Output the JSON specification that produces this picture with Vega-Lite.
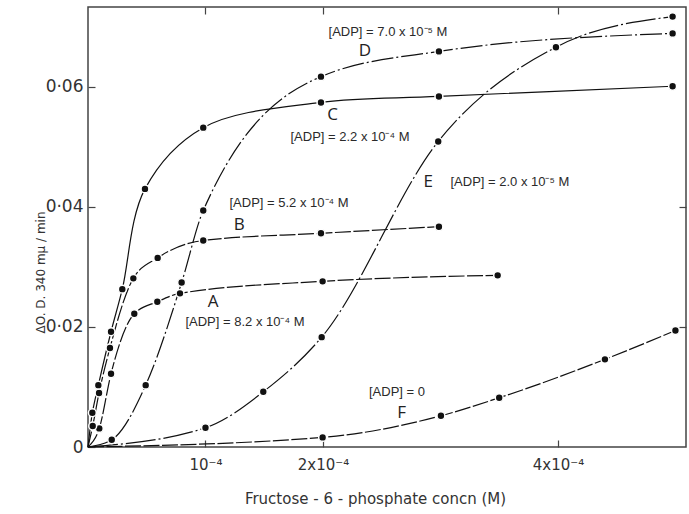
{
  "$schema": "https://vega.github.io/schema/vega-lite/v6.json",
  "width": 598,
  "height": 440,
  "autosize": {"type": "none"},
  "padding": {"left": 88, "top": 7, "right": 3, "bottom": 67},
  "background": "white",
  "config": {
    "view": {"stroke": "#444", "strokeWidth": 1.5},
    "axis": {"domain": false, "grid": false, "tickColor": "#444", "tickWidth": 1.2, "labelColor": "#333", "titleColor": "#333", "titleFontWeight": "normal"}
  },
  "datasets": {
    "curves": [
      {"curve": "A", "x": 0, "y": 0},
      {"curve": "A", "x": 9.6e-6, "y": 0.0031},
      {"curve": "A", "x": 1.96e-5, "y": 0.0122},
      {"curve": "A", "x": 3.94e-5, "y": 0.0222},
      {"curve": "A", "x": 5.9e-5, "y": 0.0242},
      {"curve": "A", "x": 7.83e-5, "y": 0.0256},
      {"curve": "A", "x": 1.997e-4, "y": 0.0276},
      {"curve": "A", "x": 3.487e-4, "y": 0.0286},
      {"curve": "B", "x": 0, "y": 0},
      {"curve": "B", "x": 4.0e-6, "y": 0.0035},
      {"curve": "B", "x": 9.4e-6, "y": 0.009},
      {"curve": "B", "x": 1.87e-5, "y": 0.0165},
      {"curve": "B", "x": 3.86e-5, "y": 0.0281},
      {"curve": "B", "x": 5.93e-5, "y": 0.0315},
      {"curve": "B", "x": 9.81e-5, "y": 0.0344},
      {"curve": "B", "x": 1.983e-4, "y": 0.0356},
      {"curve": "B", "x": 2.987e-4, "y": 0.0367},
      {"curve": "C", "x": 0, "y": 0},
      {"curve": "C", "x": 3.7e-6, "y": 0.0057},
      {"curve": "C", "x": 8.8e-6, "y": 0.0103},
      {"curve": "C", "x": 1.96e-5, "y": 0.0192},
      {"curve": "C", "x": 2.92e-5, "y": 0.0263},
      {"curve": "C", "x": 4.85e-5, "y": 0.043},
      {"curve": "C", "x": 9.81e-5, "y": 0.0532},
      {"curve": "C", "x": 1.983e-4, "y": 0.0574},
      {"curve": "C", "x": 2.987e-4, "y": 0.0584},
      {"curve": "C", "x": 4.976e-4, "y": 0.0601},
      {"curve": "D", "x": 0, "y": 0},
      {"curve": "D", "x": 2.02e-5, "y": 0.0012},
      {"curve": "D", "x": 4.91e-5, "y": 0.0103},
      {"curve": "D", "x": 7.97e-5, "y": 0.0274},
      {"curve": "D", "x": 9.81e-5, "y": 0.0394},
      {"curve": "D", "x": 1.983e-4, "y": 0.0617},
      {"curve": "D", "x": 2.987e-4, "y": 0.0659},
      {"curve": "D", "x": 4.976e-4, "y": 0.0689},
      {"curve": "E", "x": 0, "y": 0},
      {"curve": "E", "x": 1.0e-4, "y": 0.0032},
      {"curve": "E", "x": 1.492e-4, "y": 0.0092},
      {"curve": "E", "x": 1.989e-4, "y": 0.0183},
      {"curve": "E", "x": 2.981e-4, "y": 0.0509},
      {"curve": "E", "x": 3.983e-4, "y": 0.0666},
      {"curve": "E", "x": 4.976e-4, "y": 0.0717},
      {"curve": "F", "x": 0, "y": 0},
      {"curve": "F", "x": 1.997e-4, "y": 0.0016},
      {"curve": "F", "x": 3.004e-4, "y": 0.0052},
      {"curve": "F", "x": 3.5e-4, "y": 0.0082},
      {"curve": "F", "x": 4.4e-4, "y": 0.0146},
      {"curve": "F", "x": 5.0e-4, "y": 0.0194}
    ],
    "letters": [
      {"text": "D", "x": 2.357e-4, "y": 0.0659},
      {"text": "C", "x": 2.083e-4, "y": 0.0553},
      {"text": "E", "x": 2.896e-4, "y": 0.0442},
      {"text": "B", "x": 1.288e-4, "y": 0.037},
      {"text": "A", "x": 1.066e-4, "y": 0.0242},
      {"text": "F", "x": 2.67e-4, "y": 0.0056}
    ],
    "notes": [
      {"text": "[ADP] = 7.0 x 10⁻⁵ M", "x": 2.553e-4, "y": 0.0692},
      {"text": "[ADP] = 2.2 x 10⁻⁴ M", "x": 2.23e-4, "y": 0.0517},
      {"text": "[ADP] = 2.0 x 10⁻⁵ M", "x": 3.591e-4, "y": 0.0442},
      {"text": "[ADP] = 5.2 x 10⁻⁴ M", "x": 1.711e-4, "y": 0.0406},
      {"text": "[ADP] = 8.2 x 10⁻⁴ M", "x": 1.336e-4, "y": 0.0208},
      {"text": "[ADP] = 0", "x": 2.63e-4, "y": 0.0092}
    ]
  },
  "layer": [
    {
      "data": {"name": "curves"},
      "transform": [{"filter": "datum.curve != 'C'"}],
      "mark": {"type": "line", "interpolate": "monotone", "color": "#111", "strokeWidth": 1.2},
      "encoding": {
        "x": {"field": "x", "type": "quantitative", "scale": {"domain": [0, 0.000509], "nice": false, "zero": false},
          "axis": {"orient": "bottom", "values": [0.0001, 0.0002, 0.0004], "labelExpr": "round(datum.value*10000) == 1 ? '10⁻⁴' : round(datum.value*10000) + 'x10⁻⁴'", "tickSize": -7, "labelPadding": 17, "labelFont": "DejaVu Sans", "labelFontSize": 15, "title": "Fructose - 6 - phosphate concn (M)", "titleFont": "DejaVu Sans", "titleFontSize": 15, "titleX": 287, "titleY": 51, "titleBaseline": "middle", "titleAlign": "center"}},
        "y": {"field": "y", "type": "quantitative", "scale": {"domain": [0, 0.0733], "nice": false, "zero": false},
          "axis": {"orient": "left", "values": [0, 0.02, 0.04, 0.06], "labelExpr": "datum.value == 0 ? '0' : replace(format(datum.value, '.2f'), '.', '·')", "tickSize": -7, "labelPadding": 12, "labelFont": "DejaVu Sans", "labelFontSize": 17, "title": "ΔO. D. 340 mμ / min", "titleFont": "DejaVu Sans", "titleFontSize": 12, "titleAngle": 270, "titleX": -48, "titleY": 265, "titleAlign": "center", "titleBaseline": "middle"}},
        "detail": {"field": "curve"},
        "strokeDash": {"field": "curve", "type": "nominal", "legend": null,
          "scale": {"domain": ["A", "B", "C", "D", "E", "F"], "range": [[16, 2.5], [16, 2.5], [1, 0], [22, 3, 2, 3], [30, 3, 2, 3], [16, 2.5]]}},
        "order": {"field": "x", "type": "quantitative"}
      }
    },
    {
      "data": {"name": "curves"},
      "transform": [{"filter": "datum.curve == 'C'"}],
      "mark": {"type": "line", "interpolate": "catmull-rom", "color": "#111", "strokeWidth": 1.2},
      "encoding": {
        "x": {"field": "x", "type": "quantitative", "axis": null},
        "y": {"field": "y", "type": "quantitative", "axis": null},
        "order": {"field": "x", "type": "quantitative"}
      }
    },
    {
      "data": {"name": "curves"},
      "transform": [{"filter": "datum.x > 0"}],
      "mark": {"type": "circle", "size": 62, "fill": "#111", "fillOpacity": 1, "stroke": "white", "strokeWidth": 1.5, "strokeOpacity": 1},
      "encoding": {
        "x": {"field": "x", "type": "quantitative", "axis": {"orient": "top", "values": [0.0001, 0.0002, 0.0004], "labels": false, "title": null, "tickSize": -7}},
        "y": {"field": "y", "type": "quantitative", "axis": {"orient": "right", "values": [0.02, 0.04], "labels": false, "title": null, "tickSize": -7}}
      }
    },
    {
      "data": {"name": "letters"},
      "mark": {"type": "text", "font": "Open Sans", "fontSize": 17, "color": "#222", "align": "center", "baseline": "middle"},
      "encoding": {
        "x": {"field": "x", "type": "quantitative", "axis": null},
        "y": {"field": "y", "type": "quantitative", "axis": null},
        "text": {"field": "text"}
      }
    },
    {
      "data": {"name": "notes"},
      "mark": {"type": "text", "font": "Liberation Sans", "fontSize": 13, "color": "#2a2a2a", "align": "center", "baseline": "middle"},
      "encoding": {
        "x": {"field": "x", "type": "quantitative", "axis": null},
        "y": {"field": "y", "type": "quantitative", "axis": null},
        "text": {"field": "text"}
      }
    }
  ],
  "resolve": {"axis": {"x": "independent", "y": "independent"}}
}
